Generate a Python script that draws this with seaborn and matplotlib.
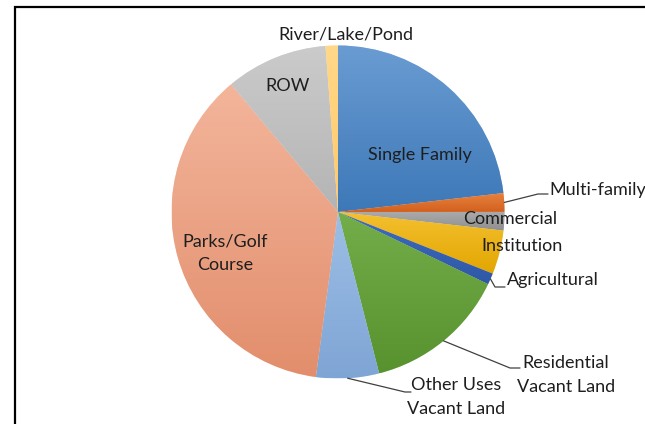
import numpy as np
import matplotlib
matplotlib.use("Agg")
import matplotlib.pyplot as plt
import matplotlib.colors as mcolors
from matplotlib.patches import Rectangle
import seaborn as sns

# Land use shares (percent), clockwise from 12 o'clock
categories = ["Single Family", "Multi-family", "Commercial", "Institution",
              "Agricultural", "Residential Vacant Land", "Other Uses Vacant Land",
              "Parks/Golf Course", "ROW", "River/Lake/Pond"]
shares = [23.2, 1.8, 1.8, 4.25, 1.1, 13.9, 6.1, 36.8, 9.9, 1.2]
# gradient ends for each slice (top, bottom)
top_colors = ["#6A9CD2", "#E8823E", "#AAAAAA", "#F4C030", "#3F6CC0",
              "#74AE4B", "#9DBFE6", "#F3B59B", "#CBCBCB", "#FFD88A"]
bottom_colors = ["#3D78B8", "#D2601E", "#8E8E8E", "#E2A600", "#2F58A6",
                 "#58922F", "#7FA5D5", "#E28E6C", "#B4B4B4", "#FFC966"]

sns.set_theme(style="white")
plt.rcParams["font.family"] = ["Lato", "DejaVu Sans"]

W, H = 645, 424
fig = plt.figure(figsize=(W / 100, H / 100), dpi=100)
ax = fig.add_axes([0, 0, 1, 1])

cx, cy, r = 338, H - 212, 166.5
wedges, _ = ax.pie(shares, colors=top_colors, startangle=90, counterclock=False,
                   center=(cx, cy), radius=r,
                   wedgeprops=dict(linewidth=0.3, edgecolor="white"))

# Excel style vertical gradient in every slice, lighter on top
grad = np.linspace(0, 1, 256).reshape(-1, 1)
for w, c1, c2 in zip(wedges, top_colors, bottom_colors):
    ang = np.deg2rad(np.linspace(w.theta1, w.theta2, 200))
    ys = np.append(cy + r * np.sin(ang), cy)
    cmap = mcolors.LinearSegmentedColormap.from_list("g", [c1, c2])
    im = ax.imshow(grad, cmap=cmap, extent=(cx - r, cx + r, ys.min(), ys.max()),
                   origin="upper", aspect="auto", zorder=1.5)
    im.set_clip_path(w)

ax.set_xlim(0, W)
ax.set_ylim(0, H)
ax.set_aspect("auto")
ax.axis("off")

txt = dict(fontsize=13, color="#1E1E1E")


def put(x, y, s, ha="center"):
    ax.text(x, H - y, s, ha=ha, va="center", linespacing=1.55, zorder=5, **txt)


def edge_point(w):
    a = np.deg2rad((w.theta1 + w.theta2) / 2)
    return cx + r * np.cos(a), cy + r * np.sin(a)


def leader(w, pts):
    x0, y0 = edge_point(w)
    xs = [x0] + [p[0] for p in pts]
    ys = [y0] + [H - p[1] for p in pts]
    ax.plot(xs, ys, color="#404040", lw=0.9, zorder=4)


put(420, 155, "Single Family")
put(288, 86, "ROW")
put(225, 253, "Parks/Golf\nCourse")
put(346, 34, "River/Lake/Pond")
put(510, 219, "Commercial")
put(522, 246, "Institution")

leader(wedges[1], [(538, 194), (548, 194)])
put(549, 190, "Multi-family", ha="left")

leader(wedges[4], [(495, 287), (505, 287)])
put(507, 280, "Agricultural", ha="left")

leader(wedges[5], [(510, 368), (520, 368)])
put(566, 375, "Residential\nVacant Land")

leader(wedges[6], [(405, 392), (411, 392)])
put(456, 397, "Other Uses\nVacant Land")

# chart area border (cut off on the right and bottom)
ax.add_patch(Rectangle((15, -20), 700, H - 7 + 20, fill=False,
                       edgecolor="black", lw=1.6, zorder=6, clip_on=False))

fig.savefig("out.png", dpi=100)
